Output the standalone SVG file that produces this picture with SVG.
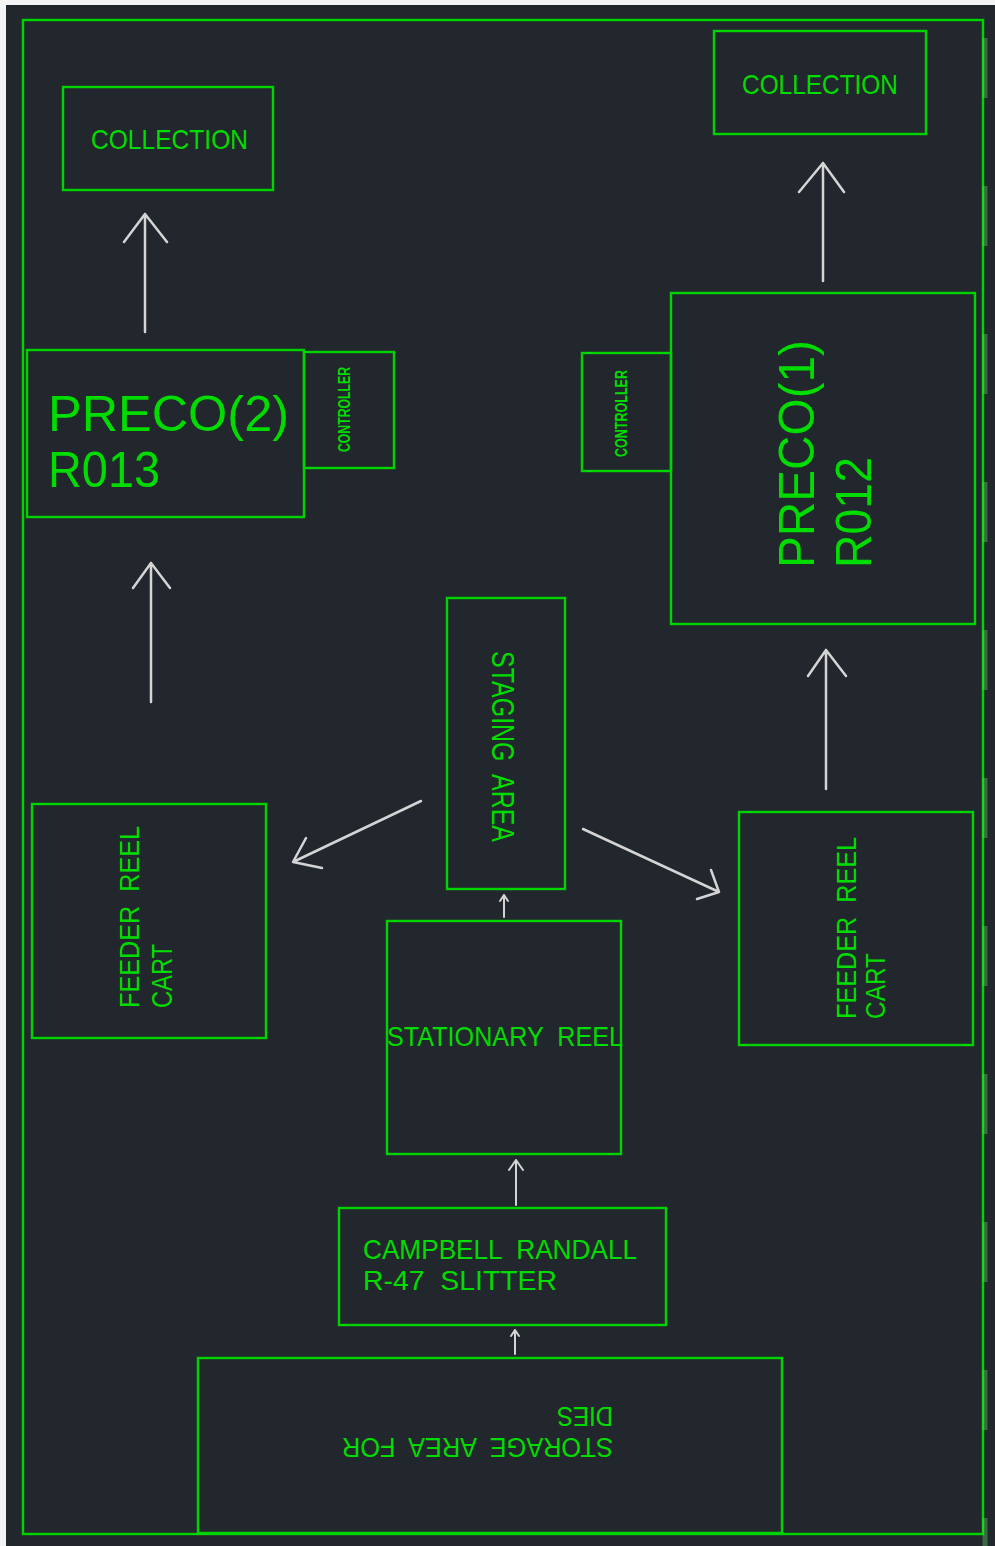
<svg xmlns="http://www.w3.org/2000/svg" width="995" height="1546" viewBox="0 0 995 1546">
<style>
.box{fill:none;stroke:#00d400;stroke-width:2.4}
.t{fill:#00dc00;font-family:"Liberation Sans",Arial,sans-serif;font-size:28px;white-space:pre}
.m{fill:#00dc00;font-family:"Liberation Sans",Arial,sans-serif;font-size:50px}
.c{fill:#00dc00;font-family:"Liberation Sans",Arial,sans-serif;font-size:16px;font-weight:bold}
.ar{fill:none;stroke:#d4d4d4;stroke-width:2.5;stroke-linecap:round;stroke-linejoin:round}
</style>
<rect x="0" y="0" width="995" height="1546" fill="#f4f4f4"/>
<rect x="6" y="5" width="989" height="1541" fill="#22272e"/>
<g id="frame">
<rect x="23" y="20" width="960" height="1514" class="box"/>
<line x1="985" y1="38" x2="985" y2="1546" stroke="#5fcf5f" stroke-width="5" stroke-opacity="0.4" stroke-dasharray="60 88"/>
</g>
<g id="collection-left">
<rect x="63" y="87" width="210" height="103" class="box"/>
<text class="t" x="91" y="149" textLength="157" lengthAdjust="spacingAndGlyphs">COLLECTION</text>
</g>
<g id="collection-right">
<rect x="714" y="31" width="212" height="103" class="box"/>
<text class="t" x="742" y="94" textLength="156" lengthAdjust="spacingAndGlyphs">COLLECTION</text>
</g>
<g id="preco2">
<rect x="27" y="350" width="277" height="167" class="box"/>
<text class="m" x="48" y="431" textLength="241" lengthAdjust="spacingAndGlyphs">PRECO(2)</text>
<text class="m" x="48" y="487" textLength="112" lengthAdjust="spacingAndGlyphs">R013</text>
</g>
<g id="controller-left">
<rect x="304" y="352" width="90" height="116" class="box"/>
<text class="c" transform="translate(350,452) rotate(-90)" textLength="85" lengthAdjust="spacingAndGlyphs">CONTROLLER</text>
</g>
<g id="preco1">
<rect x="671" y="293" width="304" height="331" class="box"/>
<g transform="translate(814,568) rotate(-90)">
<text class="m" x="0" y="0" textLength="228" lengthAdjust="spacingAndGlyphs">PRECO(1)</text>
<text class="m" x="0" y="57" textLength="111" lengthAdjust="spacingAndGlyphs">R012</text>
</g>
</g>
<g id="controller-right">
<rect x="582" y="353" width="89" height="118" class="box"/>
<text class="c" transform="translate(627,457) rotate(-90)" textLength="87" lengthAdjust="spacingAndGlyphs">CONTROLLER</text>
</g>
<g id="staging">
<rect x="447" y="598" width="118" height="291" class="box"/>
<text class="t" style="font-size:32px" transform="translate(492,651) rotate(90)" textLength="191" lengthAdjust="spacingAndGlyphs">STAGING  AREA</text>
</g>
<g id="feeder-left">
<rect x="32" y="804" width="234" height="234" class="box"/>
<g transform="translate(139,1008) rotate(-90)">
<text class="t" x="0" y="0" textLength="182" lengthAdjust="spacingAndGlyphs">FEEDER  REEL</text>
<text class="t" style="font-size:30px" x="0" y="33" textLength="64" lengthAdjust="spacingAndGlyphs">CART</text>
</g>
</g>
<g id="feeder-right">
<rect x="739" y="812" width="234" height="233" class="box"/>
<g transform="translate(856,1019) rotate(-90)">
<text class="t" x="0" y="0" textLength="182" lengthAdjust="spacingAndGlyphs">FEEDER  REEL</text>
<text class="t" x="0" y="29" textLength="66" lengthAdjust="spacingAndGlyphs">CART</text>
</g>
</g>
<g id="stationary">
<rect x="387" y="921" width="234" height="233" class="box"/>
<text class="t" x="387" y="1046" textLength="236" lengthAdjust="spacingAndGlyphs">STATIONARY  REEL</text>
</g>
<g id="slitter">
<rect x="339" y="1208" width="327" height="117" class="box"/>
<text class="t" x="363" y="1259" textLength="274" lengthAdjust="spacingAndGlyphs">CAMPBELL  RANDALL</text>
<text class="t" x="363" y="1290" textLength="194" lengthAdjust="spacingAndGlyphs">R-47  SLITTER</text>
</g>
<g id="storage">
<rect x="198" y="1358" width="584" height="175" class="box"/>
<g transform="translate(613,1438) rotate(180)">
<text class="t" x="0" y="0" textLength="271" lengthAdjust="spacingAndGlyphs">STORAGE  AREA  FOR</text>
<text class="t" x="0" y="31" textLength="56" lengthAdjust="spacingAndGlyphs">DIES</text>
</g>
</g>
<g id="connectors">
<path class="ar" d="M145 332V214M124 242L145 214L167 242"/>
<path class="ar" d="M823 281V163M799 192L823 163L844 192"/>
<path class="ar" d="M151 702V563M133 588L151 563L170 588"/>
<path class="ar" d="M826 789V650M808 676L826 650L846 676"/>
<path class="ar" d="M421 801L293 862M306 838L293 862L322 868"/>
<path class="ar" d="M583 829L719 892M711 870L719 892L697 899"/>
<path class="ar" style="stroke-width:2" d="M504 917V895M500 901L504 895L508 901"/>
<path class="ar" style="stroke-width:2" d="M516 1205V1160M509 1170L516 1160L523 1170"/>
<path class="ar" style="stroke-width:2" d="M515 1354V1330M511 1336L515 1330L519 1336"/>
</g>
</svg>
